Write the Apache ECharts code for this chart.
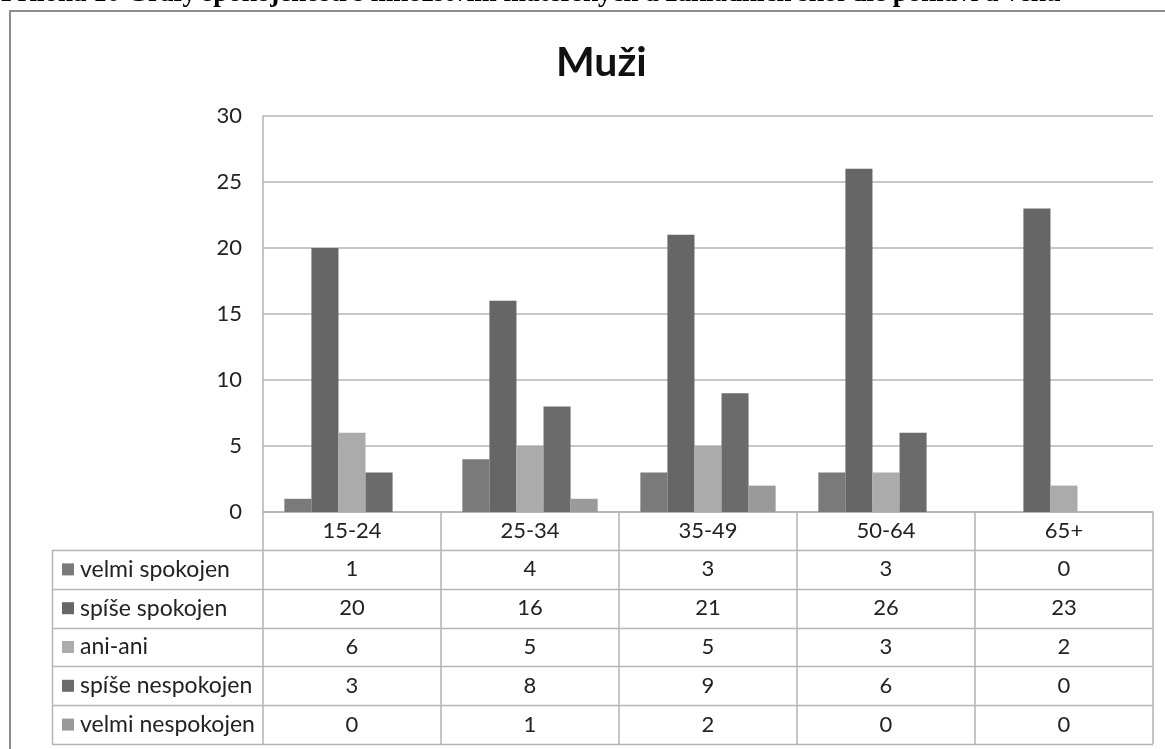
<!DOCTYPE html>
<html>
<head>
<meta charset="utf-8">
<script src="https://cdn.jsdelivr.net/npm/echarts@6/dist/echarts.min.js"></script>
<style>
html,body{margin:0;padding:0;background:#fff;}
#chart{width:1165px;height:749px;}
</style>
</head>
<body>
<div id="chart"></div>
<script>
// ---- data ----
const pageHeading = 'Příloha 10 Grafy spokojenosti s množstvím mateřských a základních škol dle pohlaví a věku';
const chartTitle = 'Muži';
const categories = ['15-24', '25-34', '35-49', '50-64', '65+'];
const seriesNames = ['velmi spokojen', 'spíše spokojen', 'ani-ani', 'spíše nespokojen', 'velmi nespokojen'];
const velmiSpokojen = [1, 4, 3, 3, 0];
const spiseSpokojen = [20, 16, 21, 26, 23];
const aniAni = [6, 5, 5, 3, 2];
const spiseNespokojen = [3, 8, 9, 6, 0];
const velmiNespokojen = [0, 1, 2, 0, 0];
const yTicks = [0, 5, 10, 15, 20, 25, 30];
const seriesValues = [velmiSpokojen, spiseSpokojen, aniAni, spiseNespokojen, velmiNespokojen];
const seriesColors = ['#7a7a7a', '#666666', '#ababab', '#6b6b6b', '#9a9a9a'];

// ---- layout ----
const FONT = 'Lato, "Open Sans", sans-serif';
const GRID = { left: 263, right: 12, top: 116, bottom: 237 };
const TABLE_LEFT = 52;
const CAT_ROW_H = 38;
const ROW_H = 38.8;
const LINE_COLOR = '#b4b4b4';
const TEXT_COLOR = '#222222';

const chart = echarts.init(document.getElementById('chart'), null, { renderer: 'canvas' });

const option = {
  animation: false,
  backgroundColor: '#ffffff',
  title: {
    text: chartTitle,
    left: 551,
    top: 37,
    textStyle: { fontFamily: FONT, fontSize: 41, fontWeight: 'bold', color: '#111' }
  },
  grid: GRID,
  xAxis: {
    type: 'category',
    data: categories,
    axisLine: { show: true, lineStyle: { color: LINE_COLOR, width: 1.5 } },
    axisTick: { show: true, interval: 0, length: 232, lineStyle: { color: LINE_COLOR, width: 1.5 } },
    axisLabel: { interval: 0, margin: 8, fontFamily: FONT, fontSize: 22, color: TEXT_COLOR },
    splitLine: { show: false }
  },
  yAxis: {
    type: 'value',
    min: yTicks[0],
    max: yTicks[yTicks.length - 1],
    interval: yTicks[1] - yTicks[0],
    axisLine: { show: true, lineStyle: { color: LINE_COLOR, width: 1.5 } },
    axisTick: { show: false },
    axisLabel: { margin: 21, fontFamily: FONT, fontSize: 22, color: TEXT_COLOR },
    splitLine: { show: true, lineStyle: { color: LINE_COLOR, width: 1.5 } }
  },
  series: seriesNames.map((name, i) => ({
    name: name,
    type: 'bar',
    data: seriesValues[i],
    barGap: '0%',
    barCategoryGap: '24%',
    itemStyle: { color: seriesColors[i] }
  }))
};
chart.setOption(option);

// ---- heading, frame and data table (positions from the axis scale) ----
function buildGraphics() {
  const g = [];
  const W = chart.getWidth(), H = chart.getHeight();
  const gridRight = W - GRID.right, axisY = H - GRID.bottom;
  // page heading (cut at the top)
  g.push({ type: 'text', left: 1, top: -19, z: 10,
    style: { text: pageHeading, font: 'bold 27px "Liberation Serif", "Times New Roman", serif', fill: '#000' } });
  // outer frame
  g.push({ type: 'polyline', z: 10, shape: { points: [[10, H], [10, 11], [W, 11]] },
    style: { stroke: '#8c8c8c', lineWidth: 2, fill: null } });
  const tableTop = axisY + CAT_ROW_H;
  const tableBottom = tableTop + ROW_H * seriesNames.length;
  // horizontal lines of the table
  for (let r = 0; r <= seriesNames.length; r++) {
    const y = Math.round(tableTop + r * ROW_H) + 0.5;
    g.push({ type: 'line', z: 5, shape: { x1: TABLE_LEFT, y1: y, x2: gridRight, y2: y },
      style: { stroke: LINE_COLOR, lineWidth: 1.5 } });
  }
  // left border of legend column
  g.push({ type: 'line', z: 5, shape: { x1: TABLE_LEFT + 0.5, y1: tableTop, x2: TABLE_LEFT + 0.5, y2: tableBottom },
    style: { stroke: LINE_COLOR, lineWidth: 1.5 } });
  // legend keys and names
  seriesNames.forEach((name, r) => {
    const cy = tableTop + (r + 0.5) * ROW_H;
    g.push({ type: 'rect', z: 6, shape: { x: 62, y: cy - 6, width: 12, height: 12 },
      style: { fill: seriesColors[r] } });
    g.push({ type: 'text', z: 6, x: 80, y: cy,
      style: { text: name, font: '23px ' + FONT, fill: TEXT_COLOR, verticalAlign: 'middle', align: 'left' } });
  });
  // values
  seriesValues.forEach((vals, r) => {
    const cy = tableTop + (r + 0.5) * ROW_H;
    vals.forEach((v, c) => {
      const cx = chart.convertToPixel({ xAxisIndex: 0 }, categories[c]);
      g.push({ type: 'text', z: 6, x: cx, y: cy,
        style: { text: String(v), font: '22px ' + FONT, fill: TEXT_COLOR, align: 'center', verticalAlign: 'middle' } });
    });
  });
  chart.setOption({ graphic: g });
}
buildGraphics();
</script>
</body>
</html>
